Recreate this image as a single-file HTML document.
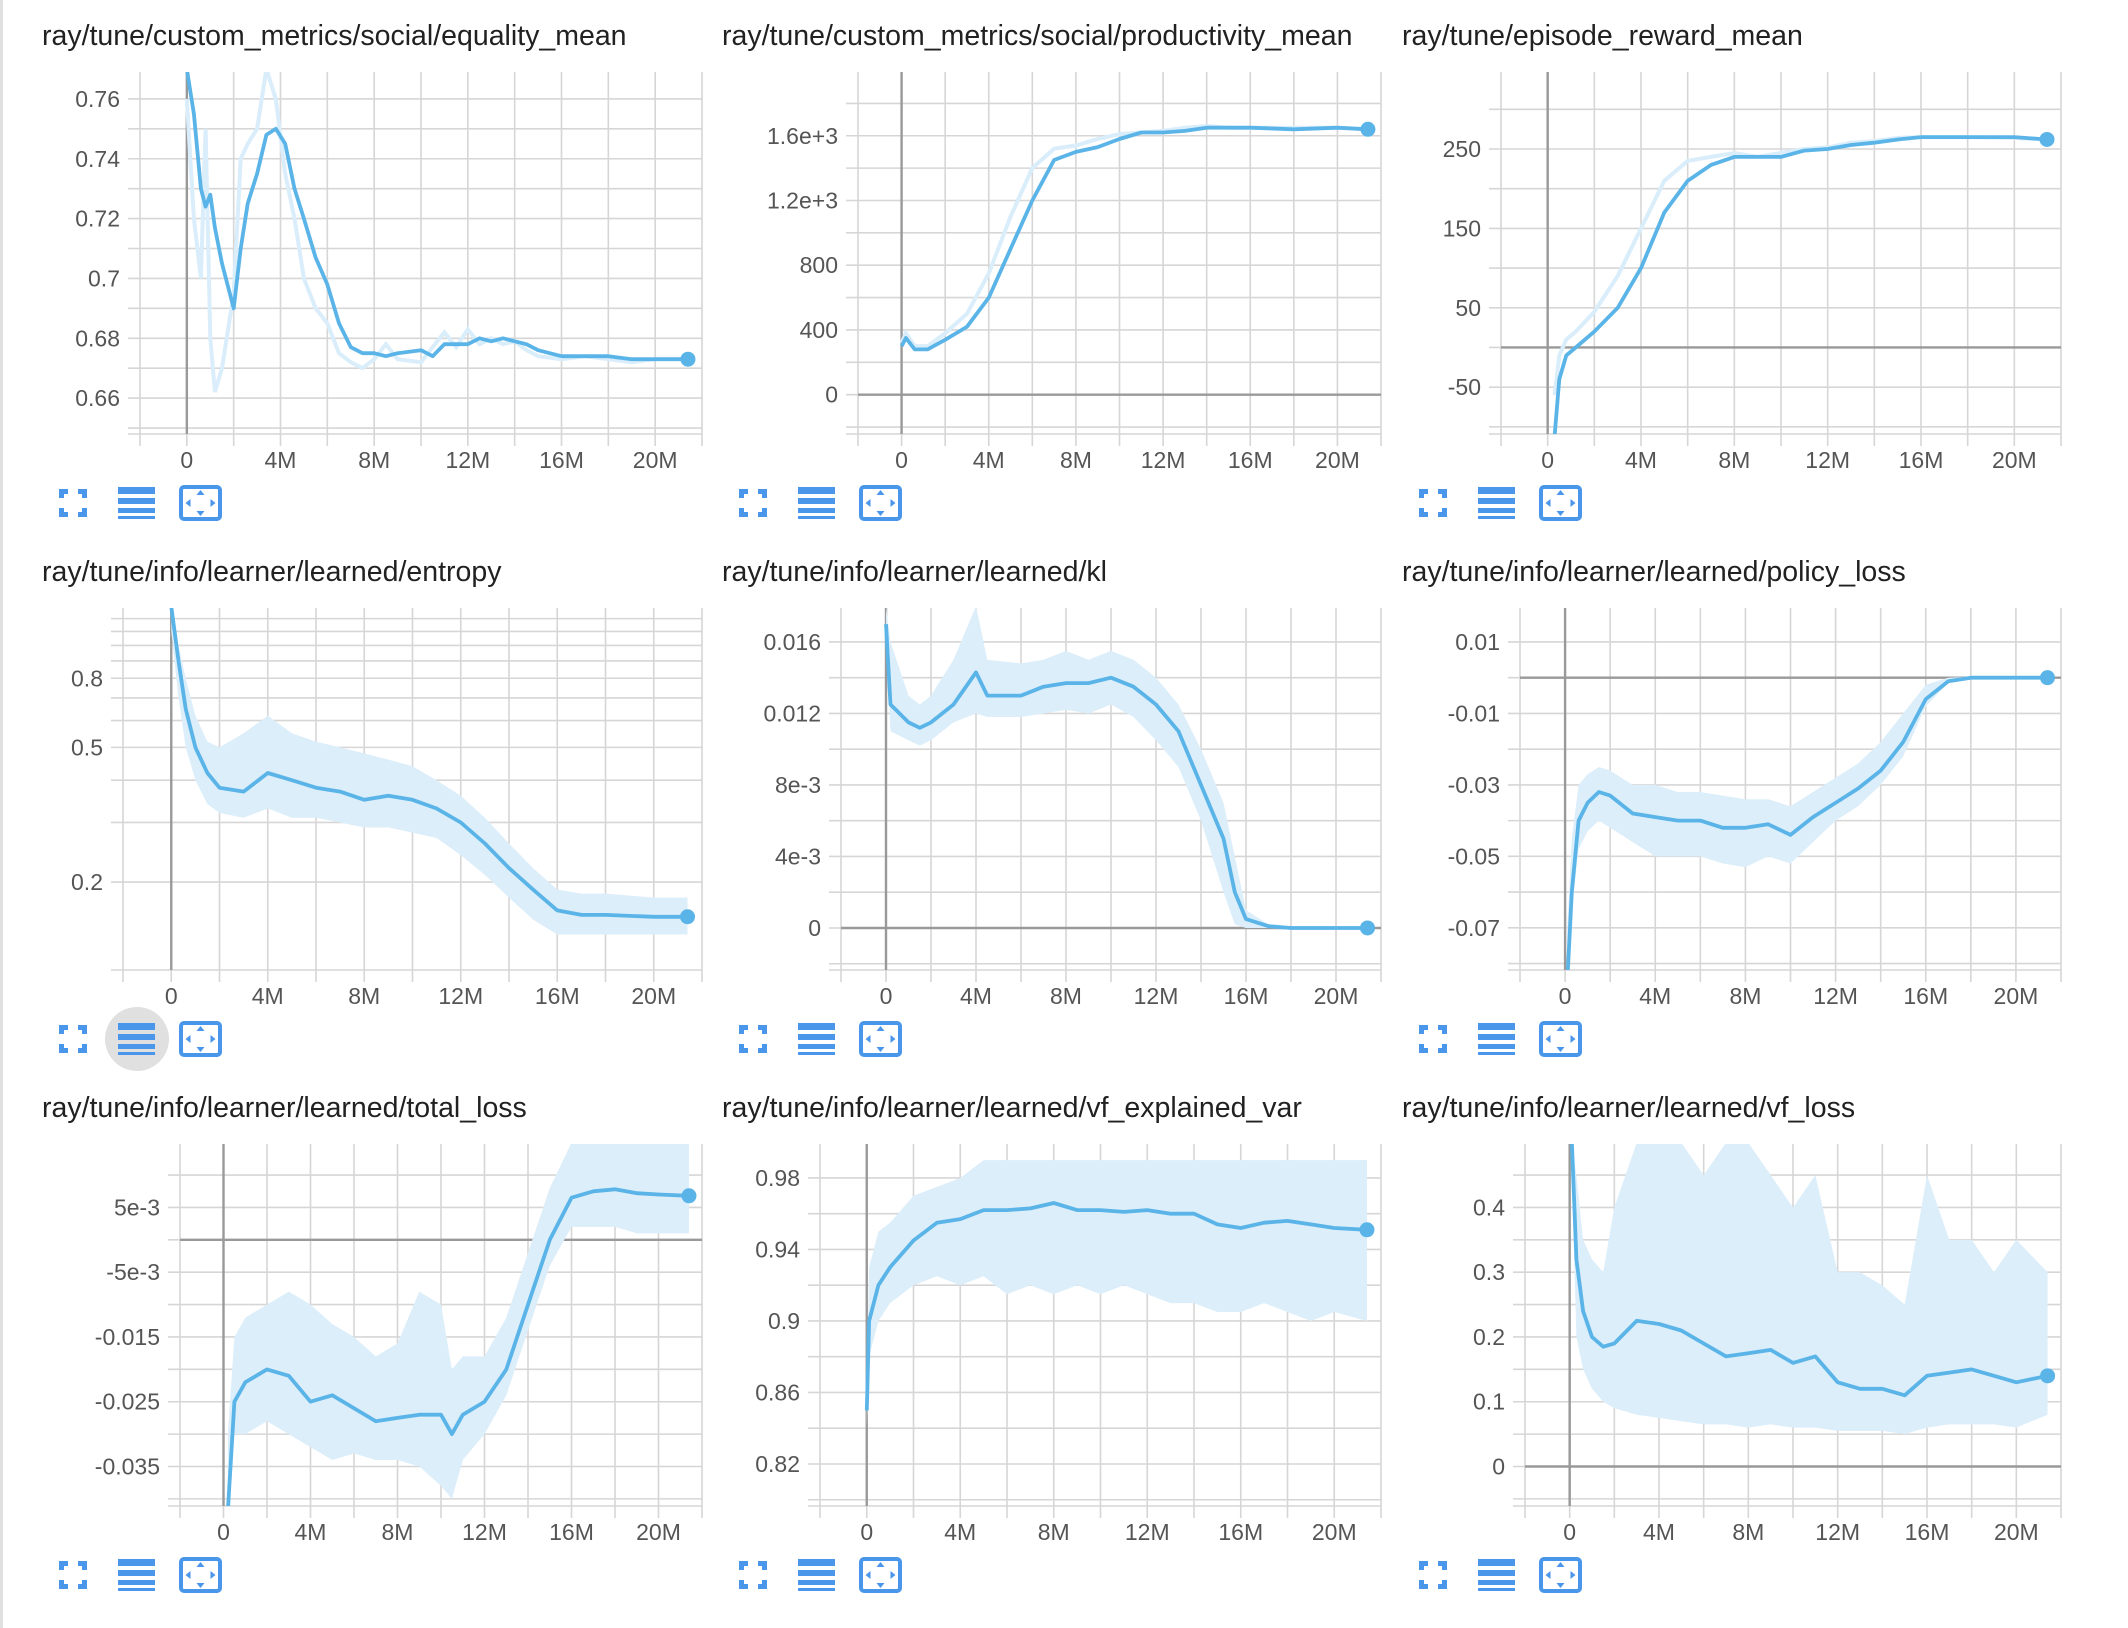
<!DOCTYPE html>
<html><head><meta charset="utf-8">
<style>
html,body{margin:0;padding:0;background:#fff;width:2128px;height:1628px;overflow:hidden}
svg{display:block}
.title{font-family:"Liberation Sans",sans-serif;font-size:28.5px;fill:#212121}
.tick{font-family:"Liberation Sans",sans-serif;font-size:23px;fill:#555}
</style></head>
<body>
<svg id="page" width="2128" height="1628" xmlns="http://www.w3.org/2000/svg">
<rect x="0" y="0" width="2128" height="1628" fill="#fff"/>
<rect x="0" y="0" width="3" height="1628" fill="#e0e0e0"/>
</svg>
<script>
// ---- data (x in millions of steps) ----
const eqX=[0,0.3,0.6,0.8,1.0,1.2,1.5,2.0,2.3,2.6,3.0,3.4,3.8,4.2,4.6,5.0,5.5,6.0,6.5,7,7.5,8,8.5,9,10,10.5,11,11.5,12,12.5,13,13.5,14,14.5,15,16,17,18,19,20,21.4];
const eqSmooth=[0.77,0.755,0.73,0.724,0.728,0.717,0.705,0.690,0.71,0.725,0.735,0.748,0.75,0.745,0.73,0.72,0.707,0.698,0.685,0.677,0.675,0.675,0.674,0.675,0.676,0.674,0.678,0.678,0.678,0.680,0.679,0.680,0.679,0.678,0.676,0.674,0.674,0.674,0.673,0.673,0.673];
const eqRaw=[0.76,0.72,0.70,0.75,0.68,0.662,0.67,0.695,0.74,0.745,0.75,0.77,0.76,0.735,0.72,0.70,0.69,0.685,0.675,0.672,0.67,0.673,0.678,0.673,0.672,0.677,0.682,0.677,0.683,0.678,0.680,0.678,0.679,0.676,0.674,0.673,0.674,0.673,0.672,0.673,0.673];
const eqTicks=[0.76,0.74,0.72,0.7,0.68,0.66];
const eqTickLabels=["0.76","0.74","0.72","0.7","0.68","0.66"];

const prX=[0,0.2,0.6,1.2,2,3,4,5,6,7,8,9,10,11,12,13,14,15,16,18,20,21.4];
const prSmooth=[300,350,280,280,340,420,600,900,1200,1450,1500,1530,1580,1620,1620,1630,1650,1650,1650,1640,1650,1640];
const prRaw=[320,380,300,300,380,500,750,1100,1400,1520,1540,1580,1610,1620,1630,1650,1660,1650,1650,1650,1650,1640];
const prTicks=[1600,1200,800,400,0];
const prTickLabels=["1.6e+3","1.2e+3","800","400","0"];

const rwX=[0.3,0.5,0.8,1.2,2,3,4,5,6,7,8,9,10,11,12,13,14,15,16,18,20,21.4];
const rwSmooth=[-110,-40,-10,0,20,50,100,170,210,230,240,240,240,248,250,255,258,262,265,265,265,262];
const rwRaw=[-60,-10,10,20,45,90,150,210,235,240,245,240,245,250,252,258,260,264,265,265,264,262];
const rwTicks=[250,150,50,-50];
const rwTickLabels=["250","150","50","-50"];

const enX=[0,0.3,0.6,1,1.5,2,3,4,5,6,7,8,9,10,11,12,13,14,15,16,17,18,20,21.4];
const enSmooth=[1.3,0.9,0.65,0.5,0.42,0.38,0.37,0.42,0.40,0.38,0.37,0.35,0.36,0.35,0.33,0.30,0.26,0.22,0.19,0.165,0.16,0.16,0.158,0.158];
const enLo=[1.1,0.7,0.5,0.4,0.34,0.32,0.31,0.33,0.31,0.31,0.30,0.29,0.29,0.28,0.27,0.24,0.21,0.18,0.155,0.14,0.14,0.14,0.14,0.14];
const enHi=[1.3,1.0,0.8,0.62,0.52,0.5,0.55,0.62,0.55,0.52,0.50,0.48,0.46,0.44,0.40,0.36,0.31,0.26,0.22,0.19,0.185,0.185,0.18,0.18];
const enTicks=[0.8,0.5,0.2];
const enTickLabels=["0.8","0.5","0.2"];

const klX=[0,0.2,1,1.5,2,3,4,4.5,6,7,8,9,10,11,12,13,14,15,15.5,16,17,18,21.4];
const klSmooth=[0.017,0.0125,0.0115,0.0112,0.0115,0.0125,0.0143,0.013,0.013,0.0135,0.0137,0.0137,0.014,0.0135,0.0125,0.011,0.008,0.005,0.002,0.0005,0.0001,0,0];
const klLo=[0.016,0.011,0.0105,0.0102,0.0105,0.0115,0.012,0.0118,0.0118,0.012,0.0122,0.012,0.0125,0.0118,0.0105,0.009,0.006,0.002,0.0002,0,0,0,0];
const klHi=[0.018,0.016,0.013,0.0125,0.013,0.015,0.018,0.015,0.0148,0.015,0.0155,0.015,0.0155,0.015,0.014,0.0125,0.01,0.007,0.004,0.001,0.0002,0.0001,0.0001];
const klTicks=[0.016,0.012,0.008,0.004,0];
const klTickLabels=["0.016","0.012","8e-3","4e-3","0"];

const plX=[0.1,0.3,0.6,1,1.5,2,3,4,5,6,7,8,9,10,11,12,13,14,15,16,17,18,21.4];
const plSmooth=[-0.085,-0.06,-0.04,-0.035,-0.032,-0.033,-0.038,-0.039,-0.04,-0.04,-0.042,-0.042,-0.041,-0.044,-0.039,-0.035,-0.031,-0.026,-0.018,-0.006,-0.001,0,0];
const plLo=[-0.085,-0.065,-0.048,-0.043,-0.04,-0.042,-0.046,-0.05,-0.05,-0.05,-0.052,-0.053,-0.05,-0.052,-0.046,-0.04,-0.036,-0.03,-0.022,-0.008,-0.0015,-0.0003,-0.0003];
const plHi=[-0.07,-0.045,-0.03,-0.027,-0.025,-0.026,-0.03,-0.03,-0.032,-0.032,-0.033,-0.034,-0.034,-0.036,-0.032,-0.028,-0.024,-0.018,-0.01,-0.002,0,0.0003,0.0003];
const plTicks=[0.01,-0.01,-0.03,-0.05,-0.07];
const plTickLabels=["0.01","-0.01","-0.03","-0.05","-0.07"];

const tlX=[0.2,0.5,1,2,3,4,5,6,7,8,9,10,10.5,11,12,13,14,15,16,17,18,19,20,21.4];
const tlSmooth=[-0.042,-0.025,-0.022,-0.02,-0.021,-0.025,-0.024,-0.026,-0.028,-0.0275,-0.027,-0.027,-0.03,-0.027,-0.025,-0.02,-0.01,0.0,0.0065,0.0075,0.0078,0.0072,0.007,0.0068];
const tlLo=[-0.042,-0.03,-0.03,-0.028,-0.03,-0.032,-0.034,-0.033,-0.034,-0.034,-0.035,-0.038,-0.04,-0.034,-0.03,-0.024,-0.014,-0.004,0.002,0.002,0.002,0.001,0.001,0.001];
const tlHi=[-0.03,-0.015,-0.012,-0.01,-0.008,-0.01,-0.013,-0.015,-0.018,-0.016,-0.008,-0.01,-0.02,-0.018,-0.018,-0.012,-0.002,0.008,0.015,0.015,0.015,0.015,0.015,0.015];
const tlTicks=[0.005,-0.005,-0.015,-0.025,-0.035];
const tlTickLabels=["5e-3","-5e-3","-0.015","-0.025","-0.035"];

const veX=[0,0.1,0.5,1,2,3,4,5,6,7,8,9,10,11,12,13,14,15,16,17,18,19,20,21.4];
const veSmooth=[0.85,0.9,0.92,0.93,0.945,0.955,0.957,0.962,0.962,0.963,0.966,0.962,0.962,0.961,0.962,0.96,0.96,0.954,0.952,0.955,0.956,0.954,0.952,0.951];
const veLo=[0.84,0.88,0.9,0.91,0.92,0.925,0.92,0.925,0.915,0.92,0.915,0.92,0.915,0.92,0.915,0.91,0.91,0.905,0.905,0.91,0.905,0.9,0.905,0.9];
const veHi=[0.86,0.93,0.95,0.955,0.97,0.975,0.98,0.99,0.99,0.99,0.99,0.99,0.99,0.99,0.99,0.99,0.99,0.99,0.99,0.99,0.99,0.99,0.99,0.99];
const veTicks=[0.98,0.94,0.9,0.86,0.82];
const veTickLabels=["0.98","0.94","0.9","0.86","0.82"];

const vlX=[0.1,0.3,0.6,1,1.5,2,3,4,5,6,7,8,9,10,11,12,13,14,15,16,17,18,19,20,21.4];
const vlSmooth=[0.5,0.32,0.24,0.2,0.185,0.19,0.225,0.22,0.21,0.19,0.17,0.175,0.18,0.16,0.17,0.13,0.12,0.12,0.11,0.14,0.145,0.15,0.14,0.13,0.14];
const vlLo=[0.45,0.2,0.15,0.12,0.1,0.09,0.08,0.075,0.07,0.065,0.065,0.06,0.065,0.06,0.06,0.055,0.055,0.055,0.05,0.06,0.065,0.065,0.065,0.06,0.08];
const vlHi=[0.5,0.45,0.35,0.32,0.3,0.4,0.5,0.5,0.5,0.45,0.5,0.5,0.45,0.4,0.45,0.3,0.3,0.28,0.25,0.45,0.35,0.35,0.3,0.35,0.3];
const vlTicks=[0.4,0.3,0.2,0.1,0];
const vlTickLabels=["0.4","0.3","0.2","0.1","0"];

const xTicks=[0,4,8,12,16,20];
const xTickLabels=["0","4M","8M","12M","16M","20M"];

// ---- layout ----
const charts=[
 {name:"equality-mean",title:"ray/tune/custom_metrics/social/equality_mean",col:0,row:0,left:140,y0:0.648,y1:0.769,grid:0.01,x:eqX,s:eqSmooth,raw:eqRaw,t:eqTicks,tl:eqTickLabels},
 {name:"productivity-mean",title:"ray/tune/custom_metrics/social/productivity_mean",col:1,row:0,left:858,y0:-243,y1:1994,grid:200,x:prX,s:prSmooth,raw:prRaw,t:prTicks,tl:prTickLabels},
 {name:"episode-reward-mean",title:"ray/tune/episode_reward_mean",col:2,row:0,left:1501,y0:-109,y1:347,grid:50,x:rwX,s:rwSmooth,raw:rwRaw,t:rwTicks,tl:rwTickLabels},
 {name:"entropy",title:"ray/tune/info/learner/learned/entropy",col:0,row:1,left:123,y0:0.11,y1:1.29,log:true,x:enX,s:enSmooth,lo:enLo,hi:enHi,t:enTicks,tl:enTickLabels},
 {name:"kl",title:"ray/tune/info/learner/learned/kl",col:1,row:1,left:841,y0:-0.00235,y1:0.0179,grid:0.002,x:klX,s:klSmooth,lo:klLo,hi:klHi,t:klTicks,tl:klTickLabels},
 {name:"policy-loss",title:"ray/tune/info/learner/learned/policy_loss",col:2,row:1,left:1520,y0:-0.0818,y1:0.0195,grid:0.01,x:plX,s:plSmooth,lo:plLo,hi:plHi,t:plTicks,tl:plTickLabels},
 {name:"total-loss",title:"ray/tune/info/learner/learned/total_loss",col:0,row:2,left:180,y0:-0.0411,y1:0.0148,grid:0.005,x:tlX,s:tlSmooth,lo:tlLo,hi:tlHi,t:tlTicks,tl:tlTickLabels},
 {name:"vf-explained-var",title:"ray/tune/info/learner/learned/vf_explained_var",col:1,row:2,left:820,y0:0.7965,y1:0.999,grid:0.02,x:veX,s:veSmooth,lo:veLo,hi:veHi,t:veTicks,tl:veTickLabels},
 {name:"vf-loss",title:"ray/tune/info/learner/learned/vf_loss",col:2,row:2,left:1525,y0:-0.061,y1:0.498,grid:0.05,x:vlX,s:vlSmooth,lo:vlLo,hi:vlHi,t:vlTicks,tl:vlTickLabels}
];
const colRight=[702,1381,2061], colTitle=[42,722,1402], colIcon=[73,753,1433];
const rowTop=[72,608,1144], rowPitch=536, plotH=362;
const NS="http://www.w3.org/2000/svg";
const page=document.getElementById('page');
function mk(tag,attrs,parent){const e=document.createElementNS(NS,tag);for(const k in attrs)e.setAttribute(k,attrs[k]);(parent||page).appendChild(e);return e;}

charts.forEach((c,ci)=>{
  const L=c.left,R=colRight[c.col],T=rowTop[c.row],B=T+plotH;
  const g=mk('g',{});
  
  
  const xs=v=>L+(v+2)/24*(R-L);
  const ys=c.log?(v=>B-(Math.log10(v)-Math.log10(c.y0))/(Math.log10(c.y1)-Math.log10(c.y0))*(B-T)):(v=>B-(v-c.y0)/(c.y1-c.y0)*(B-T));
  const tt=mk('text',{x:colTitle[c.col],y:T-27,class:'title'},g);tt.textContent=c.title;
  
  
  for(let v=-2;v<=22;v+=2){const X=xs(v);mk('line',{x1:X,x2:X,y1:T,y2:B+12,stroke:'#d6d6d6','stroke-width':1.6},g);}
  let hv=[];
  if(c.log){[0.1,0.2,0.3,0.4,0.5,0.6,0.7,0.8,0.9,1.0,1.1,1.2].forEach(v=>hv.push(v));}
  else{const st=c.grid;for(let k=Math.ceil(c.y0/st);k*st<=c.y1+1e-12;k++)hv.push(k*st);}
  hv.forEach(v=>{const Y=ys(v);if(Y<T-1||Y>B+1)return;mk('line',{x1:L-12,x2:R,y1:Y,y2:Y,stroke:'#d6d6d6','stroke-width':1.6},g);});
  mk('line',{x1:L-12,x2:R,y1:B,y2:B,stroke:'#d6d6d6','stroke-width':1.6},g);
  mk('line',{x1:xs(0),x2:xs(0),y1:T,y2:B,stroke:'#999','stroke-width':2.4},g);
  if(!c.log&&c.y0<0&&c.y1>0)mk('line',{x1:L,x2:R,y1:ys(0),y2:ys(0),stroke:'#999','stroke-width':2.4},g);
  c.t.forEach((v,i)=>{const e=mk('text',{x:L-20,y:ys(v)+8,'text-anchor':'end',class:'tick'},g);e.textContent=c.tl[i];
    
    });
  xTicks.forEach((v,i)=>{const e=mk('text',{x:xs(v),y:B+34,'text-anchor':'middle',class:'tick'},g);e.textContent=xTickLabels[i];
    
    });
  const cp=mk('clipPath',{id:'cp'+ci},g);mk('rect',{x:L,y:T,width:R-L,height:B-T},cp);
  const pg=mk('g',{'clip-path':'url(#cp'+ci+')'},g);
  if(c.raw){
    const p=mk('path',{d:c.x.map((v,i)=>(i?'L':'M')+xs(v).toFixed(1)+','+ys(c.raw[i]).toFixed(1)).join(''),fill:'none',stroke:'#d9edfa','stroke-width':4},pg);
    
    
  } else {
    let d=c.x.map((v,i)=>(i?'L':'M')+xs(v).toFixed(1)+','+ys(c.hi[i]).toFixed(1)).join('');
    for(let i=c.x.length-1;i>=0;i--)d+='L'+xs(c.x[i]).toFixed(1)+','+ys(c.lo[i]).toFixed(1);
    const p=mk('path',{d:d+'Z',fill:'#dceefa',stroke:'none'},pg);
    
    
  }
  const sp=mk('path',{d:c.x.map((v,i)=>(i?'L':'M')+xs(v).toFixed(1)+','+ys(c.s[i]).toFixed(1)).join(''),fill:'none',stroke:'#5ab4e8','stroke-width':3.8,'stroke-linejoin':'round'},pg);
  
  
  const n=c.x.length-1;
  const dot=mk('circle',{cx:xs(c.x[n]),cy:ys(c.s[n]),r:7.5,fill:'#5ab4e8'},g);
  
  
  const cy=503+c.row*rowPitch; const ix=colIcon[c.col];
  const ic=mk('g',{fill:'#4a96ea'},g);
  
  
  const f=mk('g',{},ic);
  
  
  const a=ix-14,b=cy-14,s=28,w=5,k=9;
  [[a,b,1,1],[a+s,b,-1,1],[a,b+s,1,-1],[a+s,b+s,-1,-1]].forEach(([px,py,dx,dy])=>{
    mk('rect',{x:dx>0?px:px-w,y:dy>0?py:py-k,width:w,height:k},f);
    mk('rect',{x:dx>0?px:px-k,y:dy>0?py:py-w,width:k,height:w},f);
  });
  if(c.row===1&&c.col===0)mk('circle',{cx:ix+64,cy:cy,r:32,fill:'#e0e0e0'},ic);
  const li=mk('g',{},ic);
  
  
  mk('rect',{x:ix+45,y:cy-16,width:37,height:7},li);
  mk('rect',{x:ix+45,y:cy-5,width:37,height:6},li);
  mk('rect',{x:ix+45,y:cy+5,width:37,height:5},li);
  mk('rect',{x:ix+45,y:cy+13,width:37,height:3},li);
  const fi=mk('g',{},ic);
  
  
  mk('rect',{x:ix+108,y:cy-16,width:39,height:32,rx:3,fill:'none',stroke:'#4a96ea','stroke-width':4},fi);
  const cx2=ix+127.5;
  mk('path',{d:`M${cx2-4},${cy-8}L${cx2+4},${cy-8}L${cx2},${cy-13}Z M${cx2-4},${cy+8}L${cx2+4},${cy+8}L${cx2},${cy+13}Z M${cx2-15},${cy}L${cx2-10},${cy-4}L${cx2-10},${cy+4}Z M${cx2+15},${cy}L${cx2+10},${cy-4}L${cx2+10},${cy+4}Z`},fi);
});
</script>
</body></html>
